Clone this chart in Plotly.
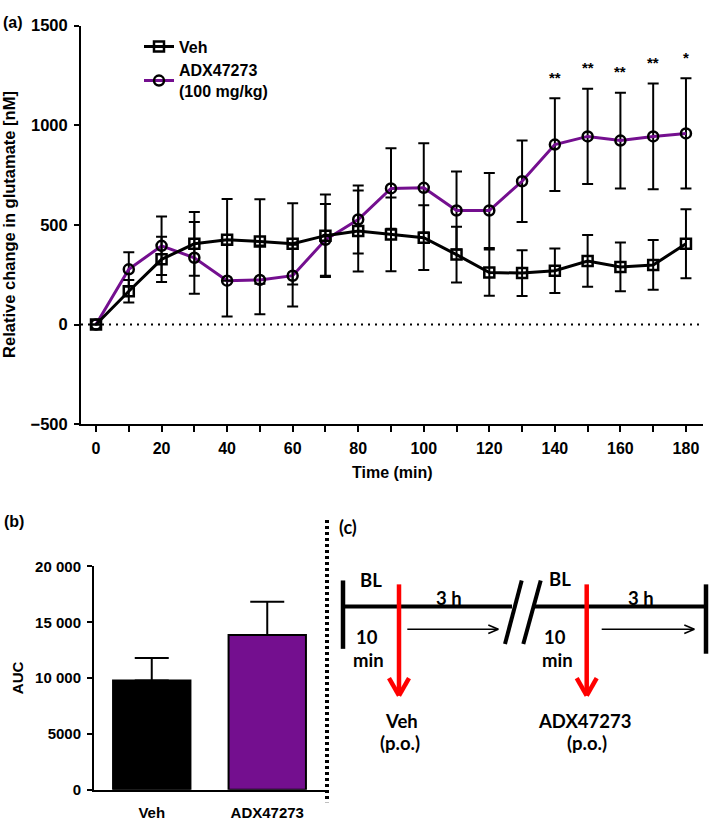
import plotly.graph_objects as go

# ---------------- data ----------------
time_min = [0, 10, 20, 30, 40, 50, 60, 70, 80, 90, 100, 110, 120, 130, 140, 150, 160, 170, 180]
veh_mean = [0, 167, 327, 405, 425, 417, 405, 446, 469, 452, 436, 351, 261, 258, 270, 319, 289, 299, 405]
veh_sem = [0, 56, 114, 160, 205, 212, 204, 207, 203, 185, 162, 140, 116, 115, 112, 130, 122, 125, 173]
adx_mean = [0, 277, 395, 335, 220, 224, 245, 425, 527, 683, 686, 572, 572, 719, 903, 944, 923, 944, 959]
adx_sem = [0, 86, 147, 180, 180, 172, 155, 180, 171, 202, 224, 196, 188, 205, 233, 239, 240, 265, 277]

sig_times = [140, 150, 160, 170, 180]
sig_labels = ["**", "**", "**", "**", "*"]

auc_groups = ["Veh", "ADX47273"]
auc_mean = [9790, 13860]
auc_sem = [2010, 2980]

y_ticks_a = [-500, 0, 500, 1000, 1500]
x_ticks_a = list(range(0, 181, 10))
x_ticktext_a = [str(t) if t % 20 == 0 else "" for t in x_ticks_a]
y_ticks_b = [0, 5000, 10000, 15000, 20000]
y_ticktext_b = ["0", "5000", "10 000", "15 000", "20 000"]

PURPLE = "#740f8f"
RED = "#ff0000"
W, H = 709, 821
FONT = "Liberation Sans, Arial, sans-serif"
CFONT = "Lato, Open Sans, sans-serif"


def px(x):
    return x / W


def py(y):
    return 1 - y / H


fig = go.Figure()

# ---------------- panel (a) ----------------
fig.add_trace(go.Scatter(
    x=time_min, y=adx_mean, name="ADX47273<br>(100 mg/kg)", mode="lines+markers",
    line=dict(color=PURPLE, width=3),
    marker=dict(symbol="circle-open", size=10, color="black", line=dict(width=2.5, color="black")),
    error_y=dict(type="data", array=adx_sem, visible=True, color="black", thickness=2, width=5.5),
    xaxis="x", yaxis="y", legendrank=2, cliponaxis=False,
))
fig.add_trace(go.Scatter(
    x=time_min, y=veh_mean, name="Veh", mode="lines+markers",
    line=dict(color="black", width=3),
    marker=dict(symbol="square-open", size=10, color="black", line=dict(width=2.5, color="black")),
    error_y=dict(type="data", array=veh_sem, visible=True, color="black", thickness=2, width=5.5),
    xaxis="x", yaxis="y", legendrank=1, cliponaxis=False,
))

# significance stars
for t, lab in zip(sig_times, sig_labels):
    i = time_min.index(t)
    fig.add_annotation(x=t, y=adx_mean[i] + adx_sem[i], xref="x", yref="y", text=lab,
                       showarrow=False, yanchor="middle", yshift=21,
                       font=dict(family=FONT, size=15, color="black", weight="bold"))

# zero reference line
fig.add_shape(type="line", xref="x domain", x0=0, x1=1, yref="y", y0=0, y1=0,
              line=dict(color="black", width=2, dash="2px,5px"))

# ---------------- panel (b) ----------------
fig.add_trace(go.Bar(
    x=auc_groups, y=auc_mean, width=0.67,
    marker=dict(color=["black", PURPLE], line=dict(color="black", width=2)),
    error_y=dict(type="data", symmetric=False, array=auc_sem, arrayminus=[0, 0],
                 visible=True, color="black", thickness=2, width=17),
    xaxis="x2", yaxis="y2", showlegend=False,
))

# ---------------- layout ----------------
fig.update_layout(
    width=W, height=H,
    margin=dict(l=0, r=0, t=0, b=0),
    paper_bgcolor="white", plot_bgcolor="white",
    font=dict(family=FONT, color="black"),
    showlegend=True,
    legend=dict(x=px(139), y=py(21), xanchor="left", yanchor="top",
                bgcolor="rgba(0,0,0,0)", tracegroupgap=2, itemwidth=30,
                font=dict(family=FONT, size=16, color="black", weight="bold")),
    xaxis=dict(domain=[px(81), px(703)], range=[-4.58, 185.2], anchor="y",
               showline=True, linewidth=2, linecolor="black", showgrid=False, zeroline=False,
               ticks="outside", ticklen=6, tickwidth=2, tickcolor="black",
               tickvals=x_ticks_a, ticktext=x_ticktext_a, ticklabelstandoff=3,
               tickfont=dict(family=FONT, size=16, color="black", weight="bold")),
    yaxis=dict(domain=[py(425), py(17)], range=[-500, 1500], anchor="x",
               showline=True, linewidth=2, linecolor="black", showgrid=False, zeroline=False,
               ticks="outside", ticklen=5, tickwidth=2, tickcolor="black",
               tickvals=y_ticks_a, ticklabelstandoff=3,
               tickfont=dict(family=FONT, size=16.5, color="black", weight="bold")),
    xaxis2=dict(domain=[px(94), px(325)], range=[-0.5, 1.5], anchor="y2",
                showline=True, linewidth=2, linecolor="black", showgrid=False, zeroline=False,
                ticks="", ticklabelstandoff=8,
                tickfont=dict(family=FONT, size=15, color="black", weight="bold")),
    yaxis2=dict(domain=[py(799.3), py(570.7)], range=[0, 20000], anchor="x2",
                showline=True, linewidth=2, linecolor="black", showgrid=False, zeroline=False,
                ticks="outside", ticklen=5, tickwidth=2, tickcolor="black",
                tickvals=y_ticks_b, ticktext=y_ticktext_b, ticklabelstandoff=3,
                tickfont=dict(family=FONT, size=15, color="black", weight="bold")),
)

# axis titles & panel labels
def txt(x, y, s, size, family=FONT, angle=0, weight="bold"):
    fig.add_annotation(x=px(x), y=py(y), xref="paper", yref="paper", text=s,
                       showarrow=False, xanchor="center", yanchor="middle", textangle=angle,
                       font=dict(family=family, size=size, color="black", weight=weight))

txt(392, 474, "Time (min)", 16)
txt(9, 221, "Relative change in glutamate [nM]", 16.5, angle=-90)
txt(17, 685, "AUC", 15, angle=-90)
txt(13, 14, "(a)", 16)
txt(14, 525, "(b)", 16)
txt(347.5, 530, "(c)", 18, family=CFONT)

# separator between (b) and (c)
fig.add_shape(type="line", xref="paper", yref="paper", x0=px(327), x1=px(327),
              y0=py(523), y1=py(812), line=dict(color="black", width=4, dash="3px,3px"))

# ---------------- panel (c): schematic ----------------
def seg(x0, y0, x1, y1, width, color="black"):
    fig.add_shape(type="line", xref="paper", yref="paper", x0=px(x0), y0=py(y0),
                  x1=px(x1), y1=py(y1), line=dict(color=color, width=width))

# timeline
seg(343, 611.7, 512, 611.7, 4)
seg(533, 611.7, 706, 611.7, 4)
seg(343, 585, 343, 655, 4.5)
seg(706, 589, 706, 660, 4.5)
# break marks
seg(505, 650, 521.7, 585, 4)
seg(523.3, 650, 540.7, 585, 4)

# red dosing arrows
for ax in (399, 586.7):
    seg(ax, 589, ax, 700, 4.5, RED)
    seg(ax, 703, ax - 10, 685, 4.5, RED)
    seg(ax, 703, ax + 10, 685, 4.5, RED)

# thin time arrows
for x0, x1 in ((407.3, 498.3), (601.7, 694.3)):
    seg(x0, 635, x1, 635, 1.6)
    seg(x1, 635, x1 - 10, 630.7, 1.6)
    seg(x1, 635, x1 - 10, 639.3, 1.6)

CS = 18.5
D = 4  # vertical correction for glyph centring
txt(371.3, 580.5 + D, "BL", CS, family=CFONT)
txt(559.5, 579.5 + D, "BL", CS, family=CFONT)
txt(449, 599.3 + D, "3 h", CS, family=CFONT)
txt(640.5, 599.3 + D, "3 h", CS, family=CFONT)
txt(366.7, 639 + D, "10", CS, family=CFONT)
txt(555, 639 + D, "10", CS, family=CFONT)
txt(368.3, 662.5 + D, "min", CS, family=CFONT)
txt(557.3, 662.5 + D, "min", CS, family=CFONT)
txt(401, 725 + D, "Veh", CS, family=CFONT)
txt(400.3, 747 + D, "(p.o.)", CS, family=CFONT)
txt(584.7, 725 + D, "ADX47273", CS, family=CFONT)
txt(587, 747 + D, "(p.o.)", CS, family=CFONT)

fig.write_html("out.html", config={"displayModeBar": False},
               post_script="document.body.style.margin='0';document.body.style.overflow='hidden';")
